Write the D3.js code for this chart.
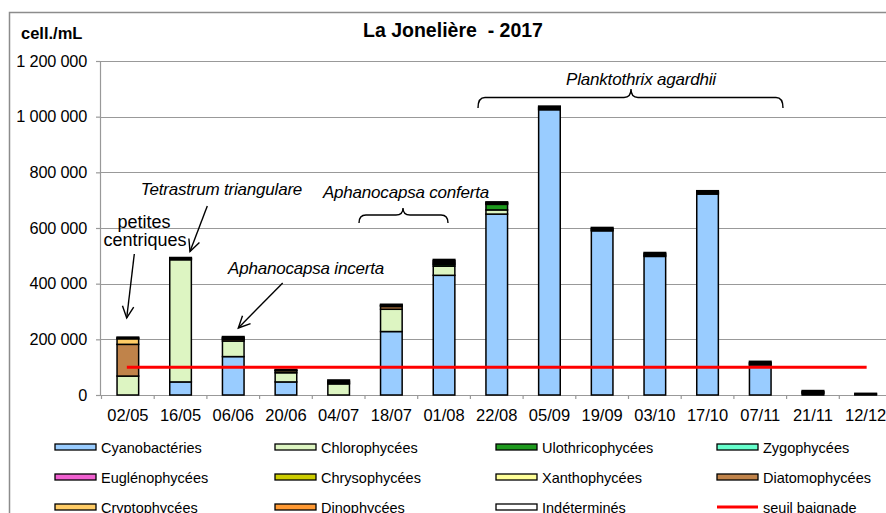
<!DOCTYPE html>
<html><head><meta charset="utf-8">
<script src="https://cdn.jsdelivr.net/npm/d3@7"></script>
<style>body{margin:0;background:#fff}svg{display:block;font-family:"Liberation Sans",Arial,sans-serif}</style>
</head><body><svg id="c" width="886" height="513"></svg>
<script>
const dates = ["02/05","16/05","06/06","20/06","04/07","18/07","01/08","22/08","05/09","19/09","03/10","17/10","07/11","21/11","12/12"];
const groups = ["Cyanobactéries","Chlorophycées","Ulothricophycées","Zygophycées","Euglénophycées","Chrysophycées","Xanthophycées","Diatomophycées","Cryptophycées","Dinophycées","Indéterminés"];
const colors = ["#99CCFF","#DDF5C2","#1E9A1E","#66FFCC","#F060D0","#CCCC00","#FFFF99","#C0834A","#FFCC66","#FF9933","#FFFFFF"];
const cyano   = [0, 47000, 138000, 47000, 0, 228000, 430000, 650000, 1025000, 590000, 498000, 722000, 108000, 5000, 0];
const chloro  = [68000, 439000, 56000, 33000, 40000, 80000, 33000, 15000, 0, 0, 0, 0, 0, 0, 0];
const ulo     = [0, 0, 0, 0, 0, 0, 6000, 20000, 0, 0, 0, 0, 0, 0, 0];
const zygo    = [0, 0, 0, 0, 0, 0, 0, 0, 0, 0, 0, 0, 0, 0, 0];
const eugleno = [0, 0, 0, 0, 0, 0, 0, 0, 0, 0, 0, 0, 0, 0, 0];
const chryso  = [0, 0, 0, 0, 0, 0, 3000, 0, 0, 0, 0, 0, 0, 0, 0];
const xantho  = [0, 0, 0, 0, 0, 0, 0, 0, 0, 0, 0, 0, 0, 0, 0];
const diatom  = [114000, 0, 6000, 0, 0, 10000, 0, 0, 0, 0, 0, 0, 0, 0, 0];
const crypto  = [20000, 3000, 3000, 7000, 4000, 3000, 5000, 3000, 4000, 4000, 4000, 4000, 4000, 4000, 0];
const dino    = [3000, 2000, 3000, 2000, 5000, 2000, 5000, 3000, 4000, 4000, 5000, 4000, 4000, 3000, 3000];
const indet   = [3000, 3000, 4000, 3000, 5000, 3000, 5000, 3000, 5000, 4000, 5000, 4000, 5000, 4000, 3000];
const seuil = 100000;
const yTicks = [0, 200000, 400000, 600000, 800000, 1000000, 1200000];
const yTickLabels = ["0","200 000","400 000","600 000","800 000","1 000 000","1 200 000"];
const legendItems = ["Cyanobactéries","Chlorophycées","Ulothricophycées","Zygophycées","Euglénophycées","Chrysophycées","Xanthophycées","Diatomophycées","Cryptophycées","Dinophycées","Indéterminés","seuil baignade"];

const series = [cyano, chloro, ulo, zygo, eugleno, chryso, xantho, diatom, crypto, dino, indet];
const table = dates.map((d,i)=>{const o={date:d}; groups.forEach((g,j)=>o[g]=series[j][i]); return o;});

const svg = d3.select("#c");
const pLeft = 101.5, step = 52.7, pTop = 61, pBase = 395;
const x = d3.scaleBand().domain(dates).range([pLeft, pLeft + step*dates.length]).paddingInner(0.59).paddingOuter(0.295);
const y = d3.scaleLinear().domain([0,1200000]).range([pBase, pTop]);

// frame
svg.append("path").attr("d","M9.5,513 V12.5 H886").attr("fill","none").attr("stroke","#8c8c8c").attr("stroke-width",1.5);

// grid
svg.append("g").selectAll("line").data(yTicks.slice(1)).join("line")
  .attr("x1",pLeft-1.5).attr("x2",886).attr("y1",d=>Math.round(y(d))+0.5).attr("y2",d=>Math.round(y(d))+0.5)
  .attr("stroke","#999").attr("stroke-width",1.2);

// y axis
const ya = svg.append("g").attr("transform",`translate(${pLeft-1.5},0)`)
  .call(d3.axisLeft(y).tickValues(yTicks).tickFormat((d,i)=>yTickLabels[i]).tickSize(4).tickPadding(9));
ya.select(".domain").attr("stroke","#999").attr("stroke-width",1.2);
ya.selectAll(".tick line").attr("stroke","#999").attr("stroke-width",1.2);
ya.selectAll(".tick text").attr("font-size","16.3px").attr("fill","#000").attr("font-family","Liberation Sans, Arial").attr("letter-spacing","-0.2px");

// x axis
const xa = svg.append("g").attr("transform",`translate(0,${pBase})`)
  .call(d3.axisBottom(x).tickSize(0).tickPadding(14));
xa.select(".domain").attr("stroke","#999").attr("stroke-width",1.2);
xa.selectAll(".tick text").attr("font-size","16.5px").attr("fill","#000").attr("font-family","Liberation Sans, Arial");
svg.append("g").selectAll("line").data(d3.range(dates.length+1)).join("line")
  .attr("x1",i=>pLeft+i*step).attr("x2",i=>pLeft+i*step).attr("y1",pBase).attr("y2",pBase+4)
  .attr("stroke","#999").attr("stroke-width",1.2);

// stacked bars
const stack = d3.stack().keys(groups)(table);
svg.append("g").selectAll("g").data(stack).join("g")
  .attr("fill",(d,i)=>colors[i])
  .selectAll("rect").data(d=>d.filter(s=>s[1]-s[0]>0)).join("rect")
  .attr("x",d=>x(d.data.date)).attr("width",x.bandwidth())
  .attr("y",d=>y(d[1])).attr("height",d=>y(d[0])-y(d[1]))
  .attr("stroke","#000").attr("stroke-width",1.5);

// seuil line
svg.append("line").attr("x1",x(dates[0])+x.bandwidth()/2-1).attr("x2",x(dates[dates.length-1])+x.bandwidth()/2+1)
  .attr("y1",y(seuil)).attr("y2",y(seuil)).attr("stroke","#FF0000").attr("stroke-width",3);

// titles
svg.append("text").attr("x",453).attr("y",37).attr("text-anchor","middle").attr("font-weight","bold")
  .attr("font-size","19.5px").style("white-space","pre").text("La Jonelière  - 2017");
svg.append("text").attr("x",21).attr("y",38.5).attr("font-weight","bold").attr("font-size","16.5px").text("cell./mL");

// annotations
const ann = svg.append("g").attr("fill","#000");
ann.append("text").attr("x",144).attr("y",228).attr("text-anchor","middle").attr("font-size","18px").text("petites");
ann.append("text").attr("x",145).attr("y",246).attr("text-anchor","middle").attr("font-size","18px").text("centriques");
const it = [["Tetrastrum triangulare",221.5,195],["Aphanocapsa incerta",306,274],["Aphanocapsa conferta",406,198],["Planktothrix agardhii",641,85]];
it.forEach(a=>ann.append("text").attr("x",a[1]).attr("y",a[2]).attr("text-anchor","middle").attr("font-style","italic").attr("font-size","17px").attr("letter-spacing","-0.2px").text(a[0]));

function arrow(x1,y1,x2,y2){
  const g = svg.append("g").attr("stroke","#000").attr("stroke-width",1.4).attr("fill","none");
  g.append("line").attr("x1",x1).attr("y1",y1).attr("x2",x2).attr("y2",y2);
  const ang = Math.atan2(y1-y2,x1-x2), L = 13, a = 0.45;
  g.append("path").attr("d",`M${x2+L*Math.cos(ang+a)},${y2+L*Math.sin(ang+a)} L${x2},${y2} L${x2+L*Math.cos(ang-a)},${y2+L*Math.sin(ang-a)}`);
}
arrow(134.3,254,126.7,318);
arrow(207.3,206,190,251.5);
arrow(282.7,283,238.3,328);

function brace(x1,x2,yl,ye,yp,xm){
  const r = 7;
  svg.append("path").attr("fill","none").attr("stroke","#000").attr("stroke-width",1.4)
    .attr("d",`M${x1},${ye} Q${x1},${yl} ${x1+r},${yl} L${xm-r},${yl} Q${xm},${yl} ${xm},${yp} Q${xm},${yl} ${xm+r},${yl} L${x2-r},${yl} Q${x2},${yl} ${x2},${ye}`);
}
brace(359,448,215,223,208,403);
brace(478,783,97.5,108,89,631);

// legend
const lg = svg.append("g");
const colX = [55,275,496,717], rowY = [447,477,507];
legendItems.forEach((name,i)=>{
  const cx = colX[i%4], cy = rowY[Math.floor(i/4)];
  if(i < groups.length){
    lg.append("rect").attr("x",cx).attr("y",cy-3).attr("width",41).attr("height",6)
      .attr("fill",colors[i]).attr("stroke","#000").attr("stroke-width",1.3);
  } else {
    lg.append("line").attr("x1",cx).attr("x2",cx+41).attr("y1",cy).attr("y2",cy).attr("stroke","#FF0000").attr("stroke-width",3);
  }
  lg.append("text").attr("x",cx+46).attr("y",cy+5.5).attr("font-size","14.5px").text(name);
});
</script></body></html>
